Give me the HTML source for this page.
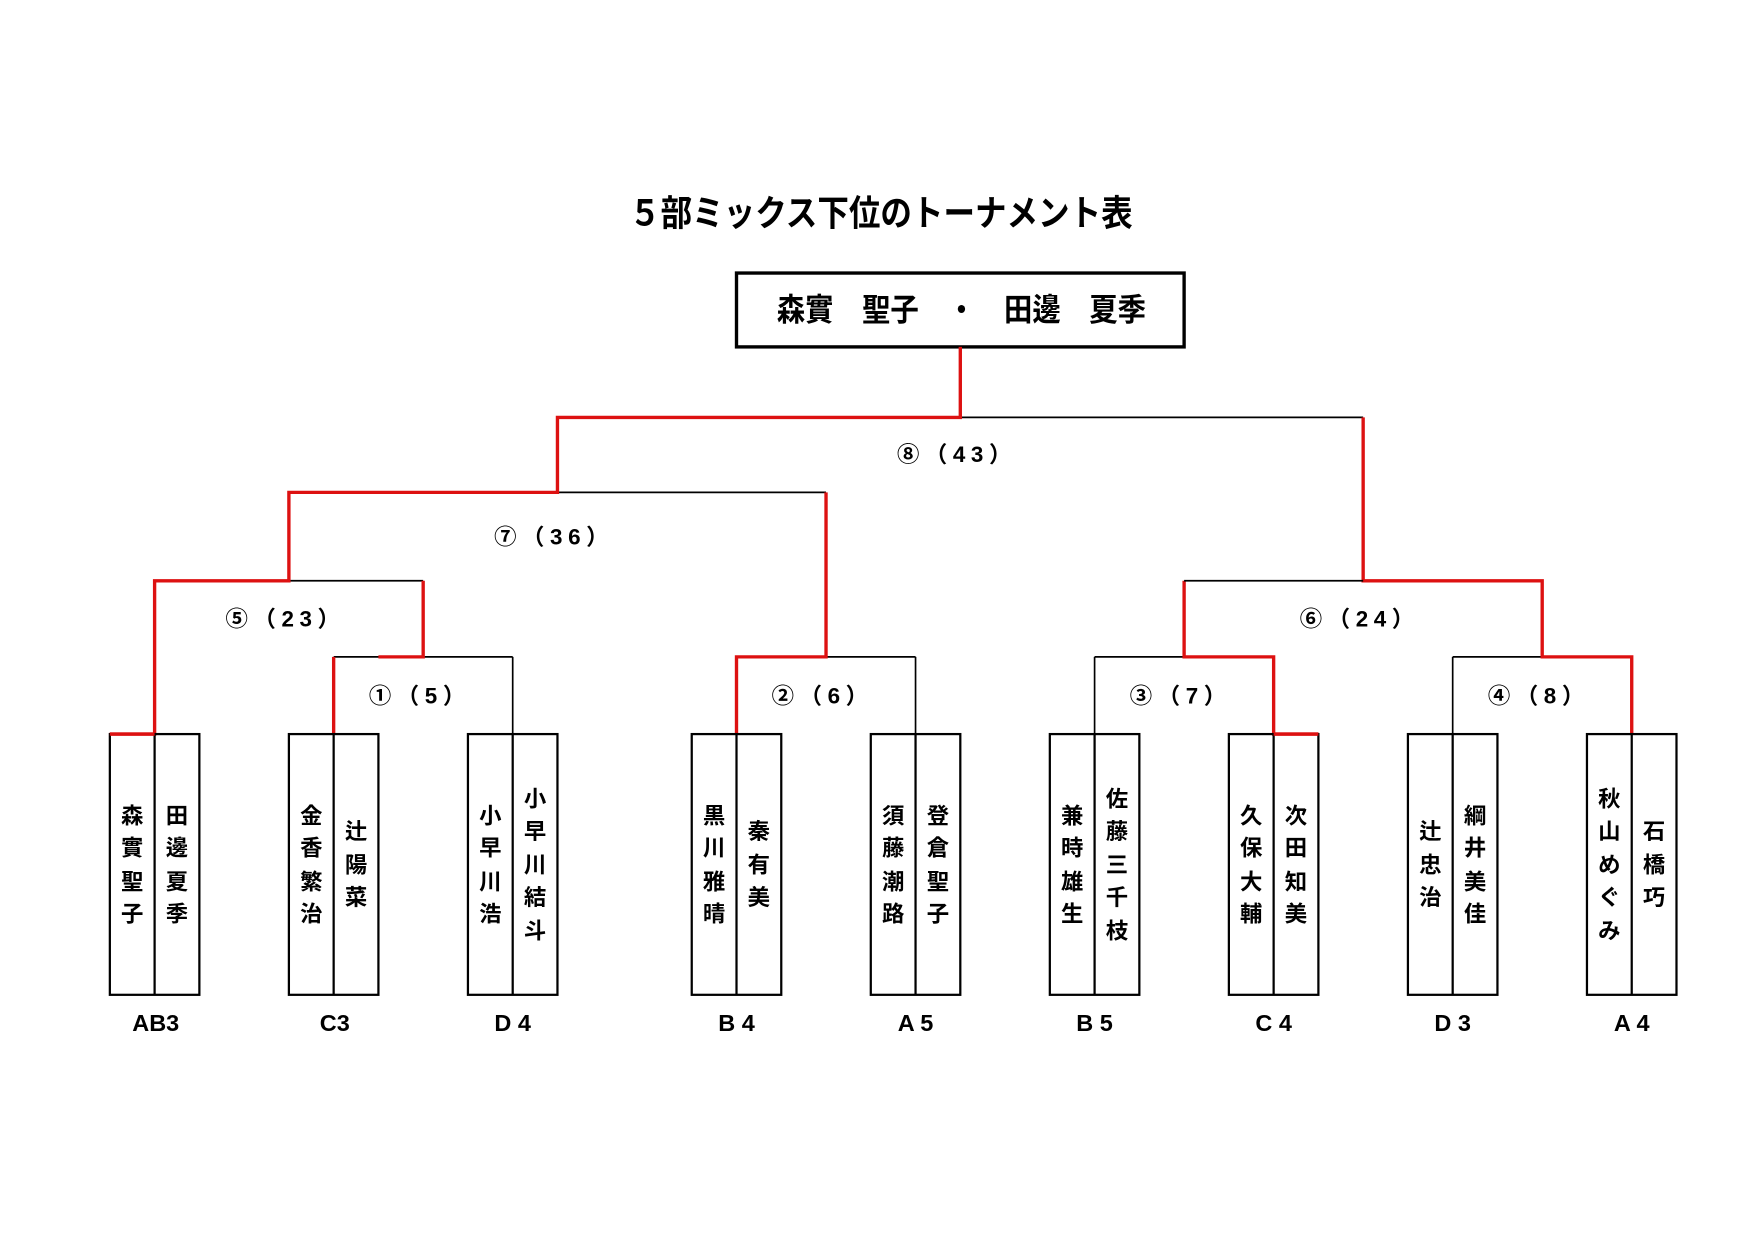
<!DOCTYPE html>
<html><head><meta charset="utf-8">
<style>
html,body{margin:0;padding:0;background:#fff;}
svg{display:block;}
text{font-family:"Liberation Sans","Noto Sans CJK JP",sans-serif;font-weight:bold;fill:#000;}
.n{font-size:20px;text-anchor:middle;dominant-baseline:central;}
.l{font-size:20px;text-anchor:middle;dominant-baseline:central;letter-spacing:5px;}
.b{font-size:21px;text-anchor:middle;dominant-baseline:central;}
</style></head><body>
<svg width="1755" height="1241" viewBox="0 0 1568 1109" xmlns="http://www.w3.org/2000/svg">
<rect width="1568" height="1109" fill="#fff"/>
<text x="787" y="191" font-size="32" text-anchor="middle" dominant-baseline="central" textLength="450" lengthAdjust="spacingAndGlyphs">５部ミックス下位のトーナメント表</text>
<rect x="658" y="244" width="400" height="66" fill="none" stroke="#000" stroke-width="3"/>
<text x="859" y="277" font-size="28" text-anchor="middle" dominant-baseline="central" textLength="330" lengthAdjust="spacingAndGlyphs">森實　聖子　・　田邊　夏季</text>

<g stroke="#000" stroke-width="1.5" fill="none">
<line x1="858" y1="373" x2="1218" y2="373"/>
<line x1="498" y1="440" x2="738" y2="440"/>
<line x1="258" y1="519" x2="378" y2="519"/>
<line x1="298" y1="587" x2="458" y2="587"/>
<line x1="458" y1="587" x2="458" y2="656"/>
<line x1="738" y1="587" x2="818" y2="587"/>
<line x1="818" y1="587" x2="818" y2="656"/>
<line x1="978" y1="587" x2="1058" y2="587"/>
<line x1="978" y1="587" x2="978" y2="656"/>
<line x1="1298" y1="587" x2="1378" y2="587"/>
<line x1="1298" y1="587" x2="1298" y2="656"/>
</g>
<g stroke="#dd1111" stroke-width="3" fill="none">
<polyline points="858,310 858,373 498,373 498,440 258,440 258,519 138,519 138,656 98,656"/>
<polyline points="378,519 378,587 338,587"/>
<polyline points="298,656 298,587"/>
<polyline points="738,440 738,587 658,587 658,656"/>
<polyline points="1218,373 1218,519 1378,519 1378,587 1458,587 1458,656"/>
<polyline points="1058,519 1058,587 1138,587 1138,656 1178,656"/>
</g>
<line x1="1058" y1="519" x2="1218" y2="519" stroke="#000" stroke-width="1.5"/>

<text class="l" x="855" y="406">⑧（43）</text>
<text class="l" x="495" y="480">⑦（36）</text>
<text class="l" x="255" y="553">⑤（23）</text>
<text class="l" x="1215" y="553">⑥（24）</text>
<text class="l" x="375" y="622">①（5）</text>
<text class="l" x="735" y="622">②（6）</text>
<text class="l" x="1055" y="622">③（7）</text>
<text class="l" x="1375" y="622">④（8）</text>

<g stroke="#000" stroke-width="2" fill="none">
<rect x="98" y="656" width="80" height="233"/><line x1="138" y1="656" x2="138" y2="889"/>
<rect x="258" y="656" width="80" height="233"/><line x1="298" y1="656" x2="298" y2="889"/>
<rect x="418" y="656" width="80" height="233"/><line x1="458" y1="656" x2="458" y2="889"/>
<rect x="618" y="656" width="80" height="233"/><line x1="658" y1="656" x2="658" y2="889"/>
<rect x="778" y="656" width="80" height="233"/><line x1="818" y1="656" x2="818" y2="889"/>
<rect x="938" y="656" width="80" height="233"/><line x1="978" y1="656" x2="978" y2="889"/>
<rect x="1098" y="656" width="80" height="233"/><line x1="1138" y1="656" x2="1138" y2="889"/>
<rect x="1258" y="656" width="80" height="233"/><line x1="1298" y1="656" x2="1298" y2="889"/>
<rect x="1418" y="656" width="80" height="233"/><line x1="1458" y1="656" x2="1458" y2="889"/>
</g>
<g stroke="#dd1111" stroke-width="3">
<line x1="98" y1="656" x2="138" y2="656"/>
<line x1="1138" y1="656" x2="1178" y2="656"/>
</g>

<g>
<text class="n" x="118" y="729">森</text><text class="n" x="118" y="758">實</text><text class="n" x="118" y="788">聖</text><text class="n" x="118" y="817">子</text>
<text class="n" x="158" y="729">田</text><text class="n" x="158" y="758">邊</text><text class="n" x="158" y="788">夏</text><text class="n" x="158" y="817">季</text>

<text class="n" x="278" y="729">金</text><text class="n" x="278" y="758">香</text><text class="n" x="278" y="788">繁</text><text class="n" x="278" y="817">治</text>
<text class="n" x="318" y="743">辻</text><text class="n" x="318" y="773">陽</text><text class="n" x="318" y="802">菜</text>

<text class="n" x="438" y="729">小</text><text class="n" x="438" y="758">早</text><text class="n" x="438" y="788">川</text><text class="n" x="438" y="817">浩</text>
<text class="n" x="478" y="714">小</text><text class="n" x="478" y="743">早</text><text class="n" x="478" y="773">川</text><text class="n" x="478" y="802">結</text><text class="n" x="478" y="832">斗</text>

<text class="n" x="638" y="729">黒</text><text class="n" x="638" y="758">川</text><text class="n" x="638" y="788">雅</text><text class="n" x="638" y="817">晴</text>
<text class="n" x="678" y="743">秦</text><text class="n" x="678" y="773">有</text><text class="n" x="678" y="802">美</text>

<text class="n" x="798" y="729">須</text><text class="n" x="798" y="758">藤</text><text class="n" x="798" y="788">潮</text><text class="n" x="798" y="817">路</text>
<text class="n" x="838" y="729">登</text><text class="n" x="838" y="758">倉</text><text class="n" x="838" y="788">聖</text><text class="n" x="838" y="817">子</text>

<text class="n" x="958" y="729">兼</text><text class="n" x="958" y="758">時</text><text class="n" x="958" y="788">雄</text><text class="n" x="958" y="817">生</text>
<text class="n" x="998" y="714">佐</text><text class="n" x="998" y="743">藤</text><text class="n" x="998" y="773">三</text><text class="n" x="998" y="802">千</text><text class="n" x="998" y="832">枝</text>

<text class="n" x="1118" y="729">久</text><text class="n" x="1118" y="758">保</text><text class="n" x="1118" y="788">大</text><text class="n" x="1118" y="817">輔</text>
<text class="n" x="1158" y="729">次</text><text class="n" x="1158" y="758">田</text><text class="n" x="1158" y="788">知</text><text class="n" x="1158" y="817">美</text>

<text class="n" x="1278" y="743">辻</text><text class="n" x="1278" y="773">忠</text><text class="n" x="1278" y="802">治</text>
<text class="n" x="1318" y="729">綱</text><text class="n" x="1318" y="758">井</text><text class="n" x="1318" y="788">美</text><text class="n" x="1318" y="817">佳</text>

<text class="n" x="1438" y="714">秋</text><text class="n" x="1438" y="743">山</text><text class="n" x="1438" y="773">め</text><text class="n" x="1438" y="802">ぐ</text><text class="n" x="1438" y="832">み</text>
<text class="n" x="1478" y="743">石</text><text class="n" x="1478" y="773">橋</text><text class="n" x="1478" y="802">巧</text>
</g>

<text class="b" x="139" y="914">AB3</text>
<text class="b" x="299" y="914">C3</text>
<text class="b" x="458" y="914">D 4</text>
<text class="b" x="658" y="914">B 4</text>
<text class="b" x="818" y="914">A 5</text>
<text class="b" x="978" y="914">B 5</text>
<text class="b" x="1138" y="914">C 4</text>
<text class="b" x="1298" y="914">D 3</text>
<text class="b" x="1458" y="914">A 4</text>
</svg>
</body></html>
